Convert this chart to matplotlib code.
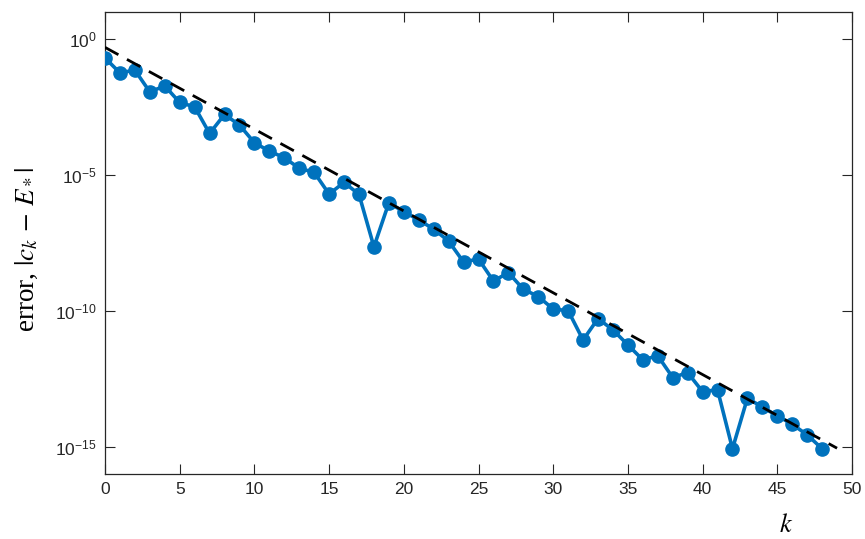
#!/usr/bin/env python3
"""Error |c_k - E_*| against iteration k on a log scale, with a dashed reference rate."""

import matplotlib

matplotlib.use("Agg")
import matplotlib.pyplot as plt

k = list(range(49))
err_exp = [
    -0.69, -1.24, -1.14, -1.94, -1.72, -2.33, -2.49, -3.47, -2.77, -3.16,
    -3.81, -4.12, -4.36, -4.75, -4.90, -5.70, -5.27, -5.71, -7.64, -6.02,
    -6.35, -6.65, -6.99, -7.43, -8.20, -8.09, -8.90, -8.59, -9.20, -9.47,
    -9.93, -9.99, -11.07, -10.28, -10.70, -11.25, -11.80, -11.65, -12.45, -12.27,
    -12.97, -12.90, -15.07, -13.21, -13.54, -13.86, -14.17, -14.56, -15.07,
]
err = [10.0 ** e for e in err_exp]

# dashed reference line end points
ref_k = [0, 49]
ref_err = [5.0e-1, 8.9e-16]

ytick_vals = [1e-15, 1e-10, 1e-5, 1e0]
ytick_labels = [r"$\mathregular{10^{-15}}$", r"$\mathregular{10^{-10}}$",
                r"$\mathregular{10^{-5}}$", r"$\mathregular{10^{0}}$"]

BLUE = "#0072BD"
DARK = "#262626"

plt.rcParams["mathtext.fontset"] = "stix"
plt.rcParams["font.family"] = ["Liberation Sans", "DejaVu Sans"]

fig = plt.figure(figsize=(8.65, 5.39), dpi=100)
ax = fig.add_axes([105 / 865, 65 / 539, 747 / 865, 462 / 539])

ax.plot(k, err, color=BLUE, linewidth=2.6, marker="o", markersize=9.5,
        markerfacecolor=BLUE, markeredgecolor=BLUE, zorder=3)
ax.plot(ref_k, ref_err, color="black", linestyle=(0, (5.5, 3.5)), linewidth=2.0, zorder=4)

ax.set_yscale("log")
ax.set_xlim(0, 50)
ax.set_ylim(1e-16, 1e1)
ax.set_xticks(range(0, 51, 5))
ax.set_yticks(ytick_vals)
ax.set_yticklabels(ytick_labels)
ax.yaxis.set_minor_locator(matplotlib.ticker.NullLocator())

ax.tick_params(axis="both", which="major", direction="in", length=7, width=0.8,
               top=True, right=True, labelsize=12.5, colors=DARK, pad=6)
for s in ax.spines.values():
    s.set_color(DARK)
    s.set_linewidth(0.9)

ax.text(-0.104, 0.485, r"error, $|c_k\,-\,E_*|$", transform=ax.transAxes,
        rotation=90, ha="center", va="center", fontsize=19.5, color="black",
        family=["Liberation Serif", "DejaVu Serif"])
ax.text(0.912, -0.110, r"$k$", transform=ax.transAxes, ha="center", va="center",
        fontsize=19, color="black")

fig.savefig("out.png", dpi=100)
